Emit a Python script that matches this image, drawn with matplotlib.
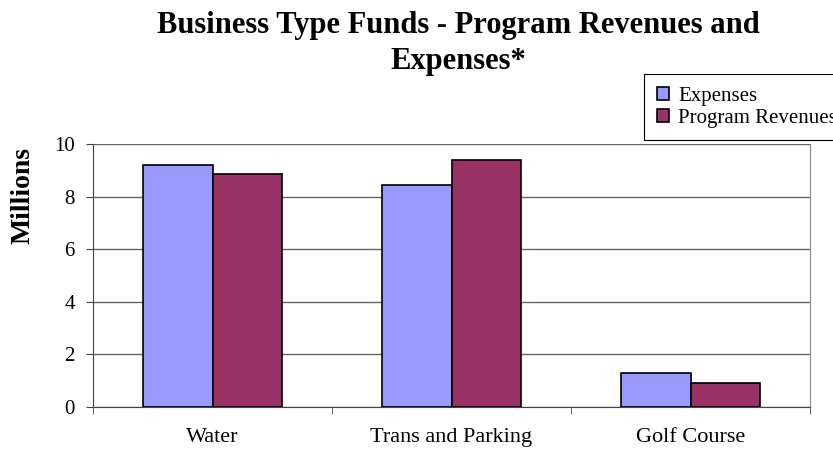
import matplotlib.pyplot as plt
import numpy as np

categories = ["Water", "Trans and Parking", "Golf Course"]
expenses = [9.19, 8.43, 1.28]
revenues = [8.87, 9.39, 0.90]
series_names = ["Expenses", "Program Revenues"]
yticks = [0, 2, 4, 6, 8, 10]

plt.rcParams['font.family'] = ['Liberation Serif', 'DejaVu Serif']

fig = plt.figure(figsize=(8.33, 4.5), dpi=100)
ax = fig.add_axes([93/833, 1-407/450, 717/833, 263/450])

x = np.arange(len(categories))
w = 0.29
ax.bar(x - w/2, expenses, w, color='#9999ff', edgecolor='black', linewidth=1.2,
       label=series_names[0], zorder=3)
ax.bar(x + w/2, revenues, w, color='#993366', edgecolor='black', linewidth=1.2,
       label=series_names[1], zorder=3)

ax.set_xlim(-0.5, 2.5)
ax.set_ylim(0, 10)
ax.set_yticks(yticks)
ax.set_xticks(x)
ax.set_xticklabels(categories, fontsize=16)
ax.set_xticks([-0.5, 0.5, 1.5, 2.5], minor=True)
ax.tick_params(axis='x', which='major', length=0, pad=15)
ax.tick_params(axis='x', which='minor', length=5, direction='out', color='#444444')
ax.tick_params(axis='y', length=5, direction='out', labelsize=15, pad=8, color='#444444')
ax.grid(axis='y', color='#666666', linewidth=1, zorder=0)
ax.spines['top'].set_visible(False)
ax.spines['right'].set_color('#888888')
ax.spines['left'].set_color('#444444')
ax.spines['bottom'].set_color('#444444')

# y label sits near the top like in the original
fig.text(23/833, 1-195/450, "Millions", rotation=90, ha='center', va='center',
         fontsize=20, fontweight='bold')

# title in two lines
fig.text(458/833, 1-26/450, "Business Type Funds - Program Revenues and",
         ha='center', va='center', fontsize=22, fontweight='bold')
fig.text(458/833, 1-62/450, "Expenses*",
         ha='center', va='center', fontsize=22, fontweight='bold')

leg = fig.legend(loc='upper left', bbox_to_anchor=(644/833, 1-74/450), fontsize=15,
                 frameon=True, fancybox=False, framealpha=1, edgecolor='black',
                 handlelength=0.6, handleheight=0.6, handletextpad=0.45,
                 borderpad=0.6, labelspacing=0.15, borderaxespad=0)
leg.get_frame().set_linewidth(0.8)

fig.savefig("out.png", dpi=100)
